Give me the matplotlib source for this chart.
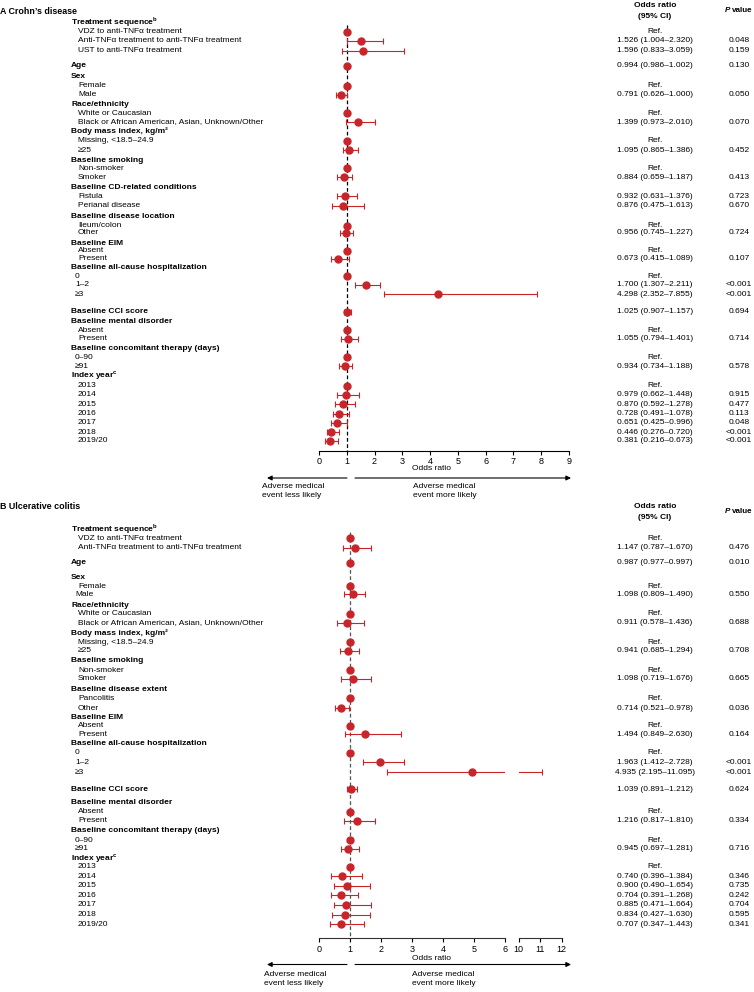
import numpy as np
import matplotlib
matplotlib.use('Agg')
import matplotlib.pyplot as plt

plt.rcParams['font.family'] = ['Liberation Sans', 'DejaVu Sans']
plt.rcParams['mathtext.fontset'] = 'custom'
plt.rcParams['mathtext.rm'] = 'Liberation Sans'

nan = np.nan

# ---------------- Panel A: Crohn's disease ----------------
cd_labels = [
    'Treatment sequence$^{\\mathregular{b}}$', 'VDZ to anti-TNFα treatment',
    'Anti-TNFα treatment to anti-TNFα treatment', 'UST to anti-TNFα treatment',
    'Age',
    'Sex', 'Female', 'Male',
    'Race/ethnicity', 'White or Caucasian', 'Black or African American, Asian, Unknown/Other',
    'Body mass index, kg/m²', 'Missing, <18.5–24.9', '≥25',
    'Baseline smoking', 'Non-smoker', 'Smoker',
    'Baseline CD-related conditions', 'Fistula', 'Perianal disease',
    'Baseline disease location', 'Ileum/colon', 'Other',
    'Baseline EIM', 'Absent', 'Present',
    'Baseline all-cause hospitalization', '0', '1–2', '≥3',
    'Baseline CCI score',
    'Baseline mental disorder', 'Absent', 'Present',
    'Baseline concomitant therapy (days)', '0–90', '≥91',
    'Index year$^{\\mathregular{c}}$', '2013', '2014', '2015', '2016', '2017', '2018', '2019/20',
]
cd_kind = ['h', 's', 's', 's', 'h', 'h', 's', 's', 'h', 's', 's', 'h', 's', 's',
           'h', 's', 's', 'h', 's', 's', 'h', 's', 's', 'h', 's', 's',
           'h', 'n', 'n', 'n', 'h', 'h', 's', 's', 'h', 'n', 'n',
           'h', 's', 's', 's', 's', 's', 's', 's']
cd_or = [nan, 1, 1.526, 1.596, 0.994, nan, 1, 0.791, nan, 1, 1.399, nan, 1, 1.095,
         nan, 1, 0.884, nan, 0.932, 0.876, nan, 1, 0.956, nan, 1, 0.673,
         nan, 1, 1.700, 4.298, 1.025, nan, 1, 1.055, nan, 1, 0.934,
         nan, 1, 0.979, 0.870, 0.728, 0.651, 0.446, 0.381]
cd_lo = [nan, nan, 1.004, 0.833, 0.986, nan, nan, 0.626, nan, nan, 0.973, nan, nan, 0.865,
         nan, nan, 0.659, nan, 0.631, 0.475, nan, nan, 0.745, nan, nan, 0.415,
         nan, nan, 1.307, 2.352, 0.907, nan, nan, 0.794, nan, nan, 0.734,
         nan, nan, 0.662, 0.592, 0.491, 0.425, 0.276, 0.216]
cd_hi = [nan, nan, 2.320, 3.059, 1.002, nan, nan, 1.000, nan, nan, 2.010, nan, nan, 1.386,
         nan, nan, 1.187, nan, 1.376, 1.613, nan, nan, 1.227, nan, nan, 1.089,
         nan, nan, 2.211, 7.855, 1.157, nan, nan, 1.401, nan, nan, 1.188,
         nan, nan, 1.448, 1.278, 1.078, 0.996, 0.720, 0.673]
cd_p = ['', '', '0.048', '0.159', '0.130', '', '', '0.050', '', '', '0.070', '', '', '0.452',
        '', '', '0.413', '', '0.723', '0.670', '', '', '0.724', '', '', '0.107',
        '', '', '<0.001', '<0.001', '0.694', '', '', '0.714', '', '', '0.578',
        '', '', '0.915', '0.477', '0.113', '0.048', '<0.001', '<0.001']

# ---------------- Panel B: Ulcerative colitis ----------------
uc_labels = [
    'Treatment sequence$^{\\mathregular{b}}$', 'VDZ to anti-TNFα treatment',
    'Anti-TNFα treatment to anti-TNFα treatment',
    'Age',
    'Sex', 'Female', 'Male',
    'Race/ethnicity', 'White or Caucasian', 'Black or African American, Asian, Unknown/Other',
    'Body mass index, kg/m²', 'Missing, <18.5–24.9', '≥25',
    'Baseline smoking', 'Non-smoker', 'Smoker',
    'Baseline disease extent', 'Pancolitis', 'Other',
    'Baseline EIM', 'Absent', 'Present',
    'Baseline all-cause hospitalization', '0', '1–2', '≥3',
    'Baseline CCI score',
    'Baseline mental disorder', 'Absent', 'Present',
    'Baseline concomitant therapy (days)', '0–90', '≥91',
    'Index year$^{\\mathregular{c}}$', '2013', '2014', '2015', '2016', '2017', '2018', '2019/20',
]
uc_kind = ['h', 's', 's', 'h', 'h', 's', 'n', 'h', 's', 's', 'h', 's', 's',
           'h', 's', 's', 'h', 's', 's', 'h', 's', 's',
           'h', 'n', 'n', 'n', 'h', 'h', 's', 's', 'h', 'n', 'n',
           'h', 's', 's', 's', 's', 's', 's', 's']
uc_or = [nan, 1, 1.147, 0.987, nan, 1, 1.098, nan, 1, 0.911, nan, 1, 0.941,
         nan, 1, 1.098, nan, 1, 0.714, nan, 1, 1.494,
         nan, 1, 1.963, 4.935, 1.039, nan, 1, 1.216, nan, 1, 0.945,
         nan, 1, 0.740, 0.900, 0.704, 0.885, 0.834, 0.707]
uc_lo = [nan, nan, 0.787, 0.977, nan, nan, 0.809, nan, nan, 0.578, nan, nan, 0.685,
         nan, nan, 0.719, nan, nan, 0.521, nan, nan, 0.849,
         nan, nan, 1.412, 2.195, 0.891, nan, nan, 0.817, nan, nan, 0.697,
         nan, nan, 0.396, 0.490, 0.391, 0.471, 0.427, 0.347]
uc_hi = [nan, nan, 1.670, 0.997, nan, nan, 1.490, nan, nan, 1.436, nan, nan, 1.294,
         nan, nan, 1.676, nan, nan, 0.978, nan, nan, 2.630,
         nan, nan, 2.728, 11.095, 1.212, nan, nan, 1.810, nan, nan, 1.281,
         nan, nan, 1.384, 1.654, 1.268, 1.664, 1.630, 1.443]
uc_p = ['', '', '0.476', '0.010', '', '', '0.550', '', '', '0.688', '', '', '0.708',
        '', '', '0.665', '', '', '0.036', '', '', '0.164',
        '', '', '<0.001', '<0.001', '0.624', '', '', '0.334', '', '', '0.716',
        '', '', '0.346', '0.735', '0.242', '0.704', '0.595', '0.341']

cd_ticks = list(range(0, 10))
uc_ticks_left = list(range(0, 7))
uc_ticks_right = [10, 11, 12]

# ---------------- layout (pixel rows of the 754x992 figure) ----------------
W, H = 754, 992
RED = '#c8252b'

cd_row_y = [22, 31.7, 41, 50.7, 65.7, 76.7, 85.7, 95, 104.3, 113.3, 122, 131.3, 141, 150.3,
            160.7, 168.3, 177.3, 187.3, 196.3, 205.7, 216.7, 225.7, 232.7, 243.3, 250.7, 258.7,
            267.3, 276, 285, 294, 311.7, 321.3, 330, 338.7, 348.7, 357.3, 366.3,
            376, 385.7, 395, 404.3, 413.7, 422.7, 432, 440.7]
uc_row_y = [529, 538.3, 547.7, 562.7, 577.3, 586, 594.3, 605.3, 613.7, 622.7, 633.3, 642, 650.7,
            660.7, 670.3, 678.7, 689.3, 698, 708.3, 717.3, 725.7, 734,
            743.3, 752.7, 762.3, 772.3, 789.3, 802.3, 811.7, 821, 831, 840, 848.7,
            858.7, 867, 876, 885.7, 895.3, 905, 914.7, 924]

LABEL_X = {'h': 71, 's': 78, 'n': 75}
CI_X = 655
P_X = 739


def add_axes_px(fig, x0, x1, y_top, y_bottom):
    """Axes placed in pixel coordinates; y data equals pixel row"""
    ax = fig.add_axes([x0 / W, 1 - y_bottom / H, (x1 - x0) / W, (y_bottom - y_top) / H])
    ax.set_ylim(y_bottom, y_top)
    ax.set_yticks([])
    for s in ['left', 'right', 'top']:
        ax.spines[s].set_visible(False)
    ax.spines['bottom'].set_linewidth(0.8)
    ax.tick_params(axis='x', length=3, width=0.8, pad=1.5, labelsize=6.5)
    ax.patch.set_alpha(0)
    return ax


def draw_forest(axes, row_y, odds, lo, hi, dash_top, dash_color):
    """Reference line, confidence intervals and point estimates"""
    row_y = np.asarray(row_y, float)
    odds = np.asarray(odds, float)
    lo = np.asarray(lo, float)
    hi = np.asarray(hi, float)
    has_or = ~np.isnan(odds)
    has_ci = has_or & ~np.isnan(lo)
    for ax in axes:
        ax.vlines(1, dash_top, ax.get_ylim()[0], colors=dash_color, linestyles=(0, (3, 2)),
                  lw=0.9, zorder=1)
        ax.errorbar(odds[has_ci], row_y[has_ci],
                    xerr=[odds[has_ci] - lo[has_ci], hi[has_ci] - odds[has_ci]],
                    fmt='none', ecolor=RED, elinewidth=0.8, capsize=2, capthick=0.8, zorder=2)
        ax.plot(odds[has_or], row_y[has_or], 'o', color=RED, ms=5, mec=RED, zorder=3)


def draw_table(over, labels, kind, row_y, odds, lo, hi, pvals):
    """Row labels on the left, OR (95% CI) and P value on the right"""
    for i, lab in enumerate(labels):
        k = kind[i]
        over.text(LABEL_X[k], row_y[i], lab, fontsize=6, va='center', ha='left',
                  fontweight='bold' if k == 'h' else 'normal')
        if np.isnan(odds[i]):
            continue
        if np.isnan(lo[i]):
            txt = 'Ref.'
        else:
            txt = f'{odds[i]:.3f} ({lo[i]:.3f}–{hi[i]:.3f})'
        over.text(CI_X, row_y[i], txt, fontsize=6, va='center', ha='center')
        if pvals[i]:
            over.text(P_X, row_y[i], pvals[i], fontsize=6, va='center', ha='center')


def draw_header(over, title, title_y, or_y):
    over.text(0, title_y, title, fontsize=6.4, fontweight='bold', va='center', ha='left')
    over.text(CI_X, or_y, 'Odds ratio', fontsize=6, fontweight='bold', va='center', ha='center')
    over.text(CI_X, or_y + 11, '(95% CI)', fontsize=6, fontweight='bold', va='center', ha='center')
    over.text(725, or_y + 4.5, 'P', fontsize=5.8, fontweight='bold', style='italic',
              va='center', ha='left')
    over.text(732.4, or_y + 4.5, 'value', fontsize=5.8, fontweight='bold', va='center', ha='left')


def draw_direction(over, y_label, y_arrow, y_text, left_x, right_x):
    over.text(412, y_label, 'Odds ratio', fontsize=6, va='center', ha='left')
    arrow = dict(arrowstyle='-|>', color='black', lw=0.8, mutation_scale=7,
                 shrinkA=0, shrinkB=0)
    over.annotate('', xy=(267, y_arrow), xytext=(347, y_arrow), arrowprops=arrow)
    over.annotate('', xy=(571, y_arrow), xytext=(355, y_arrow), arrowprops=arrow)
    over.text(left_x, y_text, 'Adverse medical\nevent less likely', fontsize=6,
              va='top', ha='left', linespacing=1.35)
    over.text(right_x, y_text, 'Adverse medical\nevent more likely', fontsize=6,
              va='top', ha='left', linespacing=1.35)


def main():
    fig = plt.figure(figsize=(W / 100, H / 100), dpi=100)

    # overlay in pixel coordinates for all text
    over = fig.add_axes([0, 0, 1, 1])
    over.set_xlim(0, W)
    over.set_ylim(H, 0)
    over.axis('off')

    # Panel A
    ax_a = add_axes_px(fig, 319, 569, 18, 451)
    ax_a.set_xlim(0, 9)
    ax_a.set_xticks(cd_ticks)
    draw_forest([ax_a], cd_row_y, cd_or, cd_lo, cd_hi, 25, 'black')
    draw_header(over, 'A Crohn’s disease', 11, 5.5)
    draw_table(over, cd_labels, cd_kind, cd_row_y, cd_or, cd_lo, cd_hi, cd_p)
    draw_direction(over, 468, 478, 483, 262, 413)

    # Panel B (broken x axis: 0-6 and 10-12)
    ax_b1 = add_axes_px(fig, 319, 505, 525, 938.3)
    ax_b1.set_xlim(0, 6)
    ax_b1.set_xticks(uc_ticks_left)
    ax_b2 = add_axes_px(fig, 518.5, 561.5, 525, 938.3)
    ax_b2.set_xlim(10, 12)
    ax_b2.set_xticks(uc_ticks_right)
    for ax in (ax_b1, ax_b2):
        ax.spines['bottom'].set_color('#333333')
    draw_forest([ax_b1, ax_b2], uc_row_y, uc_or, uc_lo, uc_hi, 532, '#555555')
    draw_header(over, 'B Ulcerative colitis', 506.7, 506.7)
    draw_table(over, uc_labels, uc_kind, uc_row_y, uc_or, uc_lo, uc_hi, uc_p)
    draw_direction(over, 958, 964.5, 971, 264, 412)

    fig.savefig('out.png', dpi=100)


if __name__ == '__main__':
    main()
